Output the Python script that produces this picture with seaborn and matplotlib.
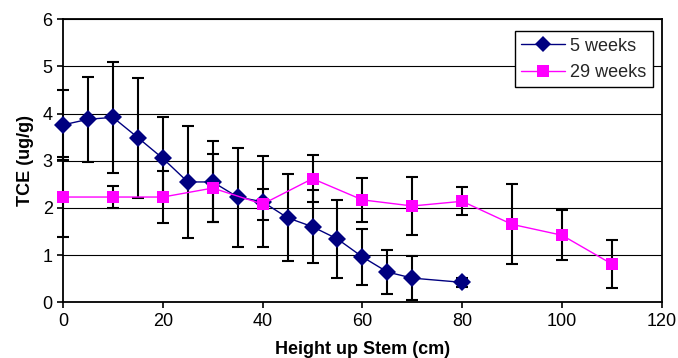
import matplotlib
matplotlib.use("Agg")
import matplotlib.pyplot as plt
import pandas as pd
import seaborn as sns

# 5 weeks series
height_5wk = [0, 5, 10, 15, 20, 25, 30, 35, 40, 45, 50, 55, 60, 65, 70, 80]
tce_5wk = [3.76, 3.88, 3.92, 3.49, 3.05, 2.55, 2.55, 2.23, 2.13, 1.79, 1.60, 1.34, 0.96, 0.64, 0.51, 0.42]
err_5wk = [0.75, 0.90, 1.17, 1.27, 0.88, 1.18, 0.86, 1.05, 0.96, 0.92, 0.78, 0.82, 0.60, 0.46, 0.46, 0.09]

# 29 weeks series
height_29wk = [0, 10, 20, 30, 40, 50, 60, 70, 80, 90, 100, 110]
tce_29wk = [2.23, 2.23, 2.23, 2.42, 2.08, 2.62, 2.17, 2.04, 2.14, 1.65, 1.42, 0.81]
err_29wk = [0.85, 0.23, 0.55, 0.72, 0.33, 0.50, 0.47, 0.62, 0.30, 0.85, 0.53, 0.50]

series_names = ["5 weeks", "29 weeks"]


def main():
    sns.set_theme(style="white")
    plt.rcParams["font.family"] = ["Liberation Sans", "DejaVu Sans"]

    df = pd.concat(
        [
            pd.DataFrame({"height": height_5wk, "tce": tce_5wk, "err": err_5wk, "series": series_names[0]}),
            pd.DataFrame({"height": height_29wk, "tce": tce_29wk, "err": err_29wk, "series": series_names[1]}),
        ],
        ignore_index=True,
    )

    fig = plt.figure(figsize=(6.78, 3.58), dpi=100)
    ax = fig.add_axes([0.093, 0.156, 0.883, 0.790])

    colors = {"5 weeks": "#000080", "29 weeks": "#FF00FF"}

    for name in series_names:
        sub = df[df["series"] == name]
        eb = ax.errorbar(
            sub["height"], sub["tce"], yerr=sub["err"],
            fmt="none", ecolor="black", elinewidth=1.5, capsize=4, capthick=1.5, zorder=2,
        )
        for art in eb.lines[1] + eb.lines[2]:
            art.set_clip_on(False)

    sns.lineplot(
        data=df, x="height", y="tce", hue="series", style="series",
        hue_order=series_names, style_order=series_names,
        palette=colors, markers={"5 weeks": "D", "29 weeks": "s"}, dashes=False,
        markersize=9, markeredgewidth=0, linewidth=1, sort=True, ax=ax, zorder=3,
    )
    for line in ax.lines:
        line.set_clip_on(False)

    ax.set_xlim(0, 120)
    ax.set_ylim(0, 6)
    ax.set_xticks(range(0, 121, 20))
    ax.set_yticks(range(0, 7))
    ax.yaxis.grid(True, color="black", linewidth=0.8)
    ax.xaxis.grid(False)
    ax.set_axisbelow(True)
    for side in ax.spines.values():
        side.set_visible(True)
        side.set_color("black")
        side.set_linewidth(1.3)
    ax.tick_params(axis="both", direction="out", length=4, width=1.2, color="black",
                   labelsize=13, labelcolor="black", bottom=True, left=True)

    ax.set_xlabel("Height up Stem (cm)", fontsize=13, fontweight="bold", color="black", labelpad=8)
    ax.set_ylabel("TCE (ug/g)", fontsize=13, fontweight="bold", color="black", labelpad=6)

    sns.move_legend(
        ax, "upper right", bbox_to_anchor=(0.985, 0.957), borderaxespad=0,
        title=None, frameon=True, fancybox=False, edgecolor="black", fontsize=13,
        framealpha=1, handlelength=2.4, handletextpad=0.3, borderpad=0.35,
        labelspacing=0.5, markerscale=0.95,
    )
    ax.get_legend().get_frame().set_linewidth(1.0)

    fig.savefig("out.png", dpi=100)
    plt.close(fig)


if __name__ == "__main__":
    main()
